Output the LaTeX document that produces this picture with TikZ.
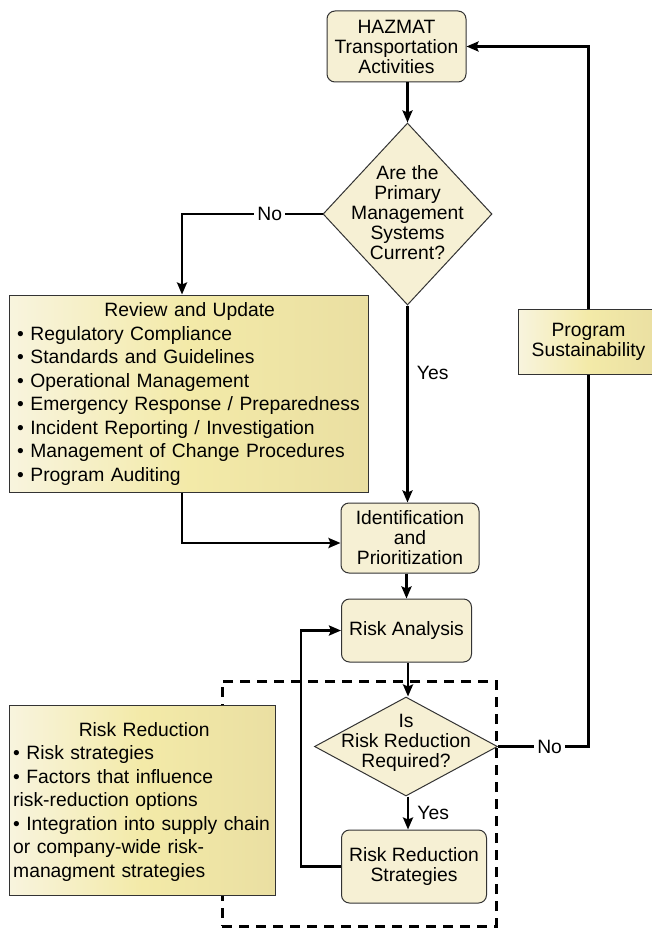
\documentclass[tikz,border=0pt]{standalone}
\usepackage{fontspec}
\setmainfont{Liberation Sans}
\usetikzlibrary{shapes.geometric,arrows.meta,calc}
\definecolor{cream}{HTML}{F6F0D4}
\definecolor{gleft}{HTML}{F8F4DE}
\definecolor{gmid}{HTML}{F3EAA8}
\definecolor{gright}{HTML}{EADFA2}
\definecolor{edge}{HTML}{333333}
\begin{document}
\begin{tikzpicture}[x=1pt,y=-1pt,
  every node/.style={font=\fontsize{19.3}{20}\selectfont},
  rbox/.style={draw=edge, line width=1pt, fill=cream, rounded corners=8pt, inner sep=0pt, align=center},
  gbox/.style={draw=edge, line width=1pt, left color=gleft, right color=gright, middle color=gmid, inner sep=0pt},
  dia/.style={diamond, draw=edge, line width=1pt, fill=cream, inner sep=0pt},
  arr/.style={line width=2.9pt, -{Stealth[length=12pt,width=10pt,inset=2pt]}},
  conn/.style={line width=2.9pt},
  lbl/.style={fill=white, inner sep=3pt},
  listtxt/.style={align=left, inner sep=0pt, font=\fontsize{19.3}{23.5}\selectfont},
  dashbox/.style={draw, line width=3pt, dash pattern=on 10pt off 7pt, inner sep=0pt}
]
\fill[white] (0,0) rectangle (651,928);
\useasboundingbox (0,0) rectangle (651,928);

% nodes
\node[rbox, minimum width=139pt, minimum height=71pt] (haz) at (396.5,46.5) {HAZMAT\\Transportation\\Activities};
\node[dia, minimum width=169pt, minimum height=182pt] (d1) at (407.5,214) {};
\node[align=center, inner sep=0pt] (d1t) at (407.5,212.5) {Are the\\Primary\\Management\\Systems\\Current?};

\node[gbox, minimum width=359pt, minimum height=197pt] (rev) at (188.5,393.5) {};
\node[listtxt, text width=345pt, anchor=west] (revt) at (17,394) {\noindent\makebox[\hsize]{Review and Update}\\
• Regulatory Compliance\\
• Standards and Guidelines\\
• Operational Management\\
• Emergency Response / Preparedness\\
• Incident Reporting / Investigation\\
• Management of Change Procedures\\
• Program Auditing};

\node[gbox, minimum width=141pt, minimum height=65pt, align=center] (ps) at (588.5,341.5) {Program\\Sustainability};

\node[rbox, minimum width=138pt, minimum height=70pt] (idp) at (410,538) {Identification\\and\\Prioritization};
\node[rbox, minimum width=130pt, minimum height=63pt] (ra) at (406.5,630.5) {Risk Analysis};

\node[dashbox, minimum width=274pt, minimum height=245pt] (grp) at (359,803.5) {};

\node[dia, minimum width=183pt, minimum height=99pt] (d2) at (406,746.5) {};
\node[align=center, inner sep=0pt] (d2t) at (406,743) {Is\\Risk Reduction\\Required?};
\node[rbox, minimum width=145pt, minimum height=73pt] (rrs) at (414,866.5) {Risk Reduction\\Strategies};

\node[gbox, minimum width=266pt, minimum height=190pt] (rr) at (142,800) {};
\node[listtxt, text width=262pt, anchor=west] (rrt) at (13,802) {\noindent\makebox[\hsize]{Risk Reduction}\\
• Risk strategies\\
• Factors that influence\\
risk-reduction options\\
• Integration into supply chain\\
or company-wide risk-\\
managment strategies};

% helper coordinates
\coordinate (revin) at ([xshift=-6.5pt]rev.north);
\coordinate (loopx) at (301,630);

% connectors
\draw[arr] (d1.north |- haz.south) -- (d1.north);
\draw[arr] (d1.west) -- node[lbl, pos=0.376]{No} (revin |- d1.west) -- (revin);
\draw[arr] (rev.south -| revin) |- ([yshift=-5pt]idp.west);
\draw[arr] (d1.south) -- node[pos=0.343, anchor=west, inner sep=0pt, xshift=8pt]{Yes} (d1.south |- idp.north);
\draw[arr] (ra.north |- idp.south) -- (ra.north);
\draw[arr] ([xshift=2pt]d2.north |- ra.south) -- ([xshift=2pt]d2.north);
\draw[arr] ([xshift=2pt]d2.south) -- node[pos=0.5, anchor=west, inner sep=0pt, xshift=8pt]{Yes} ([xshift=2pt]d2.south |- rrs.north);
\draw[arr] (rrs.west) -- (rrs.west -| loopx) |- (ra.west);
\draw[conn] (d2.east) -- node[lbl, pos=0.57]{No} (d2.east -| ps.south) -- (ps.south);
\draw[arr] (ps.north) |- (haz.east);
\end{tikzpicture}
\end{document}
